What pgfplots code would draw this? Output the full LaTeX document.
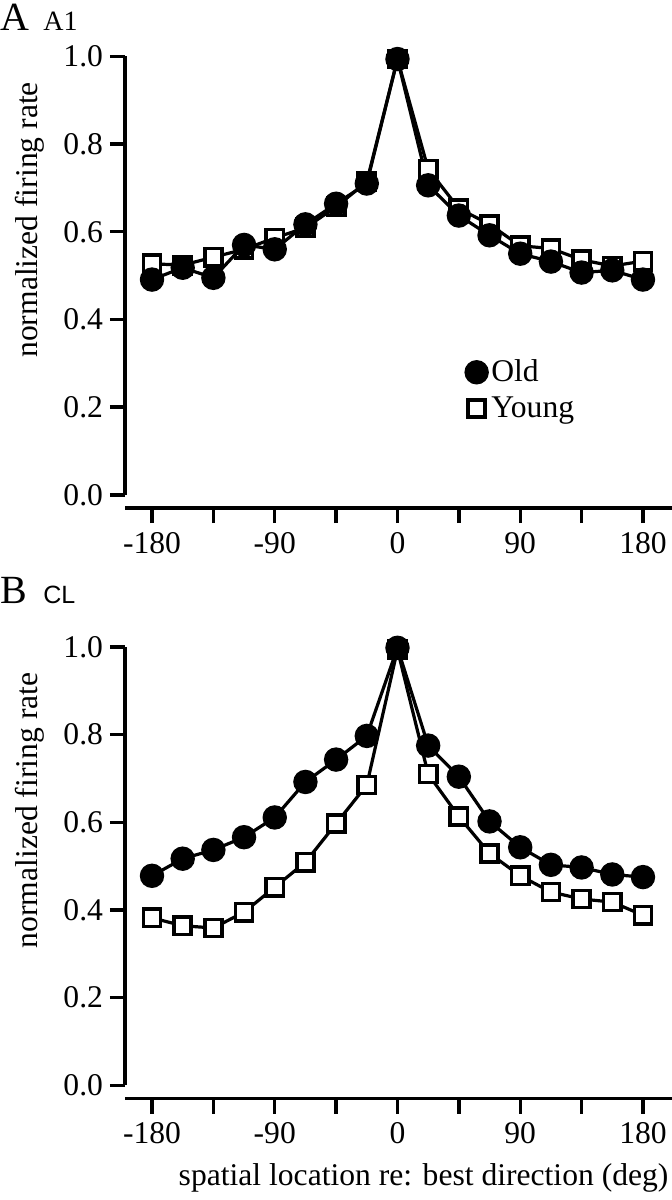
\documentclass[border=0pt]{standalone}
\usepackage{fontspec}
\setmainfont{Liberation Serif}
\newfontfamily\sansf{Liberation Sans}
\usepackage{pgfplots}
\pgfplotsset{compat=1.18}

\newcommand{\lblfont}{\fontsize{15.8bp}{18bp}\selectfont}

\pgfplotsset{
  panel/.style={
    scale only axis, width=273.5bp, height=225.8bp,
    xmin=-199.8, xmax=201.3, ymin=-0.03, ymax=1,
    clip=false,
    axis x line=bottom, axis y line=left,
    x axis line style={line width=1.7bp, -},
    y axis line style={draw=none},
    every tick/.style={line width=1.7bp, black},
    tick align=outside, major tick length=7.5bp,
    xtick={-180,-135,...,180},
    xticklabels={-180,,-90,,0,,90,,180},
    ytick={0,0.2,0.4,0.6,0.8,1.0},
    yticklabels={0.0,0.2,0.4,0.6,0.8,1.0},
    tick label style={font=\lblfont},
    xticklabel style={yshift=-1bp},
    ylabel={normalized firing rate},
    ylabel style={font=\lblfont, at={(ticklabel cs:0.638)}},
    ylabel shift=2.5bp,
    label style={font=\lblfont},
  },
  old/.style={black, line width=1.6bp, mark=*, mark size=5.3bp},
  young/.style={black, line width=1.6bp, mark=square*,
    mark size=4.3bp, mark options={fill=white, line width=1.8bp}},
}

\begin{document}
\begin{tikzpicture}
\useasboundingbox (0,0) rectangle (336bp,-600bp);

% panel A
\node[anchor=base west, inner sep=0, font=\fontsize{20bp}{23bp}\selectfont] at (0bp,-15bp) {A};
\node[anchor=base west, inner sep=0, font=\fontsize{14bp}{16bp}\selectfont] at (21.5bp,-15bp) {A1};
\begin{axis}[panel, at={(62.5bp,-254bp)}, anchor=south west,
  legend style={draw=none, fill=none, font=\lblfont,
    at={(axis cs:50,0.318)}, anchor=north west,
    row sep=2bp, inner sep=0pt,
    every even column/.style={column sep=7bp}},
  legend cell align=left,
  legend image code/.code={\draw[#1] plot coordinates {(0.15cm,0cm)};}]
\draw[line width=1.7bp] (axis cs:-199.8,0) -- (axis cs:-199.8,1);
\addlegendimage{old}
\addlegendentry{Old}
\addlegendimage{young}
\addlegendentry{Young}
\addplot[young] coordinates {
(-180,0.527) (-157.5,0.524) (-135,0.542) (-112.5,0.560) (-90,0.586)
(-67.5,0.609) (-45,0.657) (-22.5,0.714) (0,0.994) (22.5,0.743)
(45,0.653) (67.5,0.617) (90,0.568) (112.5,0.562) (135,0.536)
(157.5,0.522) (180,0.533)};
\addplot[old] coordinates {
(-180,0.491) (-157.5,0.518) (-135,0.495) (-112.5,0.570) (-90,0.560)
(-67.5,0.617) (-45,0.664) (-22.5,0.710) (0,0.994) (22.5,0.706)
(45,0.637) (67.5,0.592) (90,0.550) (112.5,0.532) (135,0.507)
(157.5,0.512) (180,0.491)};
\end{axis}

% panel B
\node[anchor=base west, inner sep=0, font=\fontsize{20bp}{23bp}\selectfont] at (0bp,-301.5bp) {B};
\node[anchor=base west, inner sep=0, font=\sansf\fontsize{12.5bp}{14bp}\selectfont] at (21.5bp,-301.5bp) {CL};
\begin{axis}[panel, at={(62.5bp,-549.25bp)}, anchor=south west,
  xlabel={spatial location re: best direction (deg)},
  xlabel style={at={(rel axis cs:1,0)}, anchor=north east, xshift=1.7bp, yshift=-29bp}]
\draw[line width=1.7bp] (axis cs:-199.8,0) -- (axis cs:-199.8,1);
\addplot[young] coordinates {
(-180,0.382) (-157.5,0.364) (-135,0.359) (-112.5,0.395) (-90,0.452)
(-67.5,0.509) (-45,0.597) (-22.5,0.685) (0,0.994) (22.5,0.710)
(45,0.613) (67.5,0.529) (90,0.478) (112.5,0.441) (135,0.425)
(157.5,0.418) (180,0.388)};
\addplot[old] coordinates {
(-180,0.478) (-157.5,0.517) (-135,0.537) (-112.5,0.566) (-90,0.611)
(-67.5,0.692) (-45,0.743) (-22.5,0.797) (0,0.998) (22.5,0.775)
(45,0.704) (67.5,0.602) (90,0.543) (112.5,0.503) (135,0.497)
(157.5,0.481) (180,0.475)};
\end{axis}
\end{tikzpicture}
\end{document}
